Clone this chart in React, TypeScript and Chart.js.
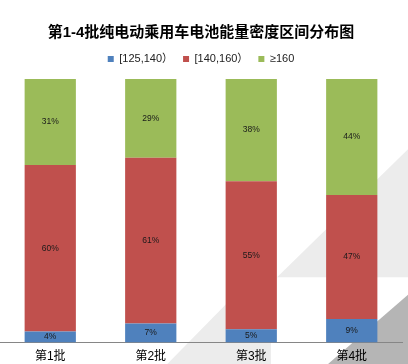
import React, { useEffect, useRef } from "react";
import { Chart, registerables } from "chart.js";

Chart.register(...registerables);

const chartTitle = "第1-4批纯电动乘用车电池能量密度区间分布图";
const categories = ["第1批", "第2批", "第3批", "第4批"];
const seriesNames = ["[125,140）", "[140,160）", "≥160"];
const lowShare = [4, 7, 5, 9];
const midShare = [60, 61, 55, 47];
const highShare = [31, 29, 38, 44];
const seriesColors = ["#4F81BD", "#C0504D", "#9BBB59"];

const FONT = "'Liberation Sans', Arial, 'Noto Sans CJK SC', sans-serif";

const rawSeries = [lowShare, midShare, highShare];

// background decoration (Excel-style diagonal shapes)
const decoPlugin = {
  id: "deco",
  beforeDraw(chart: any) {
    const { ctx, width: w, height: h } = chart;
    ctx.save();
    ctx.fillStyle = "#ECECEC";
    ctx.beginPath();
    ctx.moveTo(w * 0.679, h * 0.762);
    ctx.lineTo(w, h * 0.41);
    ctx.lineTo(w, h * 0.762);
    ctx.closePath();
    ctx.fill();
    ctx.beginPath();
    ctx.moveTo(w * 0.41, h);
    ctx.lineTo(w * 0.664, h * 0.71);
    ctx.lineTo(w * 0.664, h);
    ctx.closePath();
    ctx.fill();
    ctx.fillStyle = "#B5B5B5";
    ctx.beginPath();
    ctx.moveTo(w * 0.804, h);
    ctx.lineTo(w, h * 0.81);
    ctx.lineTo(w, h);
    ctx.closePath();
    ctx.fill();
    ctx.restore();
  },
};

const legendGapPlugin = {
  id: "legendGap",
  beforeInit(chart: any) {
    const legend = chart.legend;
    if (!legend) return;
    const orig = legend.fit;
    legend.fit = function () {
      orig.call(this);
      this.height += 4.5;
    };
  },
};

const labelPlugin = {
  id: "segLabels",
  afterDatasetsDraw(chart: any) {
    const { ctx } = chart;
    ctx.save();
    ctx.font = `8.5px ${FONT}`;
    ctx.fillStyle = "#1a1a1a";
    ctx.textAlign = "center";
    ctx.textBaseline = "middle";
    chart.data.datasets.forEach((ds: any, di: number) => {
      const meta = chart.getDatasetMeta(di);
      meta.data.forEach((el: any, i: number) => {
        const cy = (el.y + el.base) / 2;
        ctx.fillText(`${rawSeries[di][i]}%`, el.x, cy);
      });
    });
    ctx.restore();
  },
};

export default function App() {
  const ref = useRef<HTMLCanvasElement | null>(null);
  useEffect(() => {
    if (!ref.current) return;
    const totals = categories.map((_, i) =>
      rawSeries.reduce((s, arr) => s + arr[i], 0)
    );
    const chart = new Chart(ref.current, {
      type: "bar",
      data: {
        labels: categories,
        datasets: rawSeries.map((arr, di) => ({
          label: seriesNames[di],
          data: arr.map((v, i) => (v / totals[i]) * 100),
          backgroundColor: seriesColors[di],
          borderWidth: 0,
          categoryPercentage: 0.51,
          barPercentage: 1,
        })),
      },
      options: {
        responsive: false,
        animation: false,
        layout: { padding: { left: 0, right: 6, top: 14, bottom: -7 } },
        plugins: {
          title: {
            display: true,
            text: chartTitle,
            color: "#000",
            font: { family: FONT, size: 15, weight: "bold" },
            padding: { top: 10, bottom: 1.5 },
          },
          legend: {
            position: "top",
            labels: {
              color: "#222",
              font: { family: FONT, size: 11 },
              boxWidth: 6,
              boxHeight: 6,
              padding: 10,
            },
          },
          tooltip: { enabled: false },
        },
        scales: {
          x: {
            stacked: true,
            grid: { display: false, drawTicks: false },
            border: { display: true, color: "#868686", width: 1 },
            ticks: { color: "#000", font: { family: FONT, size: 12 }, padding: 7 },
          },
          y: {
            stacked: true,
            display: false,
            min: 0,
            max: 100,
          },
        },
      },
      plugins: [decoPlugin, legendGapPlugin, labelPlugin],
    });
    return () => chart.destroy();
  }, []);
  return (
    <div style={{ position: "fixed", left: 0, top: 0, width: 408, height: 364 }}>
      <canvas ref={ref} width={408} height={364} />
    </div>
  );
}
